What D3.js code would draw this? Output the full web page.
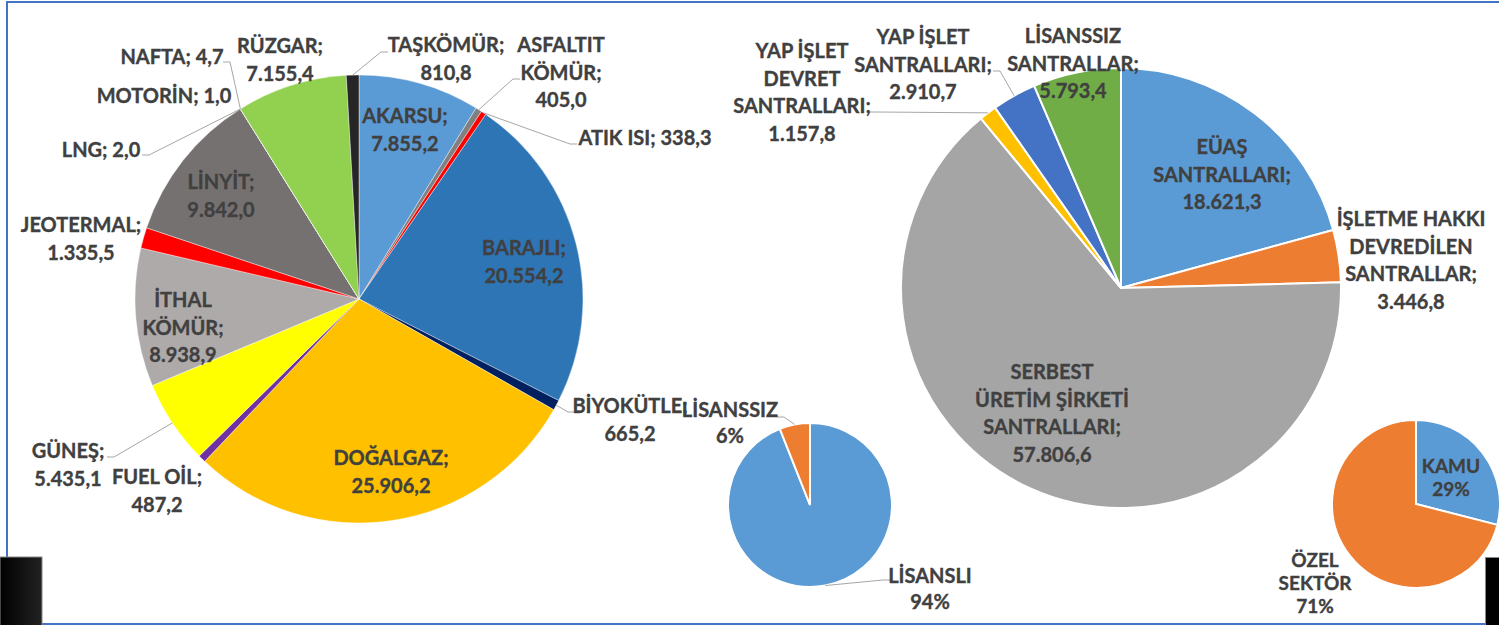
<!DOCTYPE html>
<html>
<head>
<meta charset="utf-8">
<script src="https://cdn.jsdelivr.net/npm/d3@7"></script>
<style>
  body { margin: 0; background: #fff; }
  svg text { font-family: Lato, "Noto Sans", sans-serif; font-weight: 700; fill: #404040; stroke: #404040; stroke-width: 0.35px; }
</style>
</head>
<body>
<svg id="chart" width="1499" height="625"></svg>
<script>
// installed capacity by source (MW)
const sources = ["AKARSU", "ASFALTIT KÖMÜR", "ATIK ISI", "BARAJLI", "BİYOKÜTLE", "DOĞALGAZ", "FUEL OİL", "GÜNEŞ",
  "İTHAL KÖMÜR", "JEOTERMAL", "LİNYİT", "LNG", "MOTORİN", "NAFTA", "RÜZGAR", "TAŞKÖMÜR"];
const sourceValues = [7855.2, 405.0, 338.3, 20554.2, 665.2, 25906.2, 487.2, 5435.1,
  8938.9, 1335.5, 9842.0, 2.0, 1.0, 4.7, 7155.4, 810.8];

// installed capacity by ownership (MW)
const owners = ["EÜAŞ SANTRALLARI", "İŞLETME HAKKI DEVREDİLEN SANTRALLAR", "SERBEST ÜRETİM ŞİRKETİ SANTRALLARI",
  "YAP İŞLET DEVRET SANTRALLARI", "YAP İŞLET SANTRALLARI", "LİSANSSIZ SANTRALLAR"];
const ownerValues = [18621.3, 3446.8, 57806.6, 1157.8, 2910.7, 5793.4];

// shares (%)
const licence = ["LİSANSLI", "LİSANSSIZ"];
const licenceShares = [94, 6];
const sectors = ["KAMU", "ÖZEL SEKTÖR"];
const sectorShares = [29, 71];

const sourceColors = ["#5b9bd5", "#808080", "#ff0000", "#2e75b6", "#002060", "#ffc000", "#7030a0", "#ffff00",
  "#aeaaaa", "#ff0000", "#767171", "#5b9bd5", "#ed7d31", "#a5a5a5", "#92d050", "#262626"];
const ownerColors = ["#5b9bd5", "#ed7d31", "#a5a5a5", "#ffc000", "#4472c4", "#70ad47"];
const shareColors = ["#5b9bd5", "#ed7d31"];

const tr = d3.formatLocale({ decimal: ",", thousands: ".", grouping: [3], currency: ["", ""] });
const fmtMW = tr.format(",.1f");
const fmtPct = v => v + "%";

// label placement, offsets from the pie centre; leader = [dx, dy, side of text]
const sourceLabels = {
  "AKARSU": { at: [46, -183], lines: ["AKARSU;", "%v"] },
  "ASFALTIT KÖMÜR": { at: [202, -254], lines: ["ASFALTIT", "KÖMÜR;", "%v"], leader: [161, -220, 1] },
  "ATIK ISI": { at: [286, -161], lines: ["ATIK ISI; %v"], leader: [218, -155, 1] },
  "BARAJLI": { at: [165, -51], lines: ["BARAJLI;", "%v"] },
  "BİYOKÜTLE": { at: [271, 107], lines: ["BİYOKÜTLE;", "%v"], leader: [216, 113, 1] },
  "DOĞALGAZ": { at: [32, 159], lines: ["DOĞALGAZ;", "%v"] },
  "FUEL OİL": { at: [-202, 178], lines: ["FUEL OİL;", "%v"] },
  "GÜNEŞ": { at: [-291, 152], lines: ["GÜNEŞ;", "%v"], leader: [-252, 158, -1] },
  "İTHAL KÖMÜR": { at: [-176, 1], lines: ["İTHAL", "KÖMÜR;", "%v"] },
  "JEOTERMAL": { at: [-278, -74], lines: ["JEOTERMAL;", "%v"] },
  "LİNYİT": { at: [-138, -117], lines: ["LİNYİT;", "%v"] },
  "LNG": { at: [-258, -149], lines: ["LNG; %v"], leader: [-217, -144, -1] },
  "MOTORİN": { at: [-195, -203], lines: ["MOTORİN; %v"] },
  "NAFTA": { at: [-187, -242], lines: ["NAFTA; %v"], leader: [-136, -237, -1] },
  "RÜZGAR": { at: [-79, -253], lines: ["RÜZGAR;", "%v"] },
  "TAŞKÖMÜR": { at: [87, -254], lines: ["TAŞKÖMÜR;", "%v"], leader: [29, -247, 1] }
};
const ownerLabels = {
  "EÜAŞ SANTRALLARI": { at: [101, -141], lines: ["EÜAŞ", "SANTRALLARI;", "%v"] },
  "İŞLETME HAKKI DEVREDİLEN SANTRALLAR": { at: [290, -69], lines: ["İŞLETME HAKKI", "DEVREDİLEN", "SANTRALLAR;", "%v"] },
  "SERBEST ÜRETİM ŞİRKETİ SANTRALLARI": { at: [-69, 84], lines: ["SERBEST", "ÜRETİM ŞİRKETİ", "SANTRALLARI;", "%v"] },
  "YAP İŞLET DEVRET SANTRALLARI": { at: [-319, -237], lines: ["YAP İŞLET", "DEVRET", "SANTRALLARI;", "%v"], leader: [-251, -176, -1] },
  "YAP İŞLET SANTRALLARI": { at: [-198, -251], lines: ["YAP İŞLET", "SANTRALLARI;", "%v"], leader: [-128, -217, -1] },
  "LİSANSSIZ SANTRALLAR": { at: [-48, -252], lines: ["LİSANSSIZ", "SANTRALLAR;", "%v"] }
};
const licenceLabels = {
  "LİSANSLI": { at: [120, 71], lines: ["LİSANSLI", "%v"], leader: [80, 75, 1] },
  "LİSANSSIZ": { at: [-80, -95], lines: ["LİSANSSIZ", "%v"], leader: [-33, -88, -1] }
};
const sectorLabels = {
  "KAMU": { at: [35, -38], lines: ["KAMU", "%v"] },
  "ÖZEL SEKTÖR": { at: [-101, 56], lines: ["ÖZEL", "SEKTÖR", "%v"] }
};

const svg = d3.select("#chart");

// frame
const frame = svg.append("g").attr("fill", "none").attr("stroke", "#4472c4").attr("stroke-width", 2);
frame.append("path").attr("d", "M7,557 V2 H1499");
frame.append("path").attr("d", "M42,624 H1485");

const grad = svg.append("defs").append("linearGradient").attr("id", "blk");
grad.append("stop").attr("offset", "0%").attr("stop-color", "#000");
grad.append("stop").attr("offset", "100%").attr("stop-color", "#222");
svg.append("rect").attr("x", 0).attr("y", 557).attr("width", 42).attr("height", 70)
  .attr("fill", "url(#blk)").attr("stroke", "#888").attr("stroke-width", 1);
svg.append("rect").attr("x", 1485.5).attr("y", 557.5).attr("width", 20).attr("height", 70)
  .attr("fill", "#000").attr("stroke", "#888").attr("stroke-width", 1);

function drawPie(opt) {
  const g = svg.append("g").attr("transform", `translate(${opt.cx}, ${opt.cy})`);
  const slices = d3.pie().sort(null).value(d => d)(opt.values);
  const arc = d3.arc().innerRadius(0).outerRadius(opt.r);

  g.selectAll("path.slice")
    .data(slices)
    .join("path")
    .attr("class", "slice")
    .attr("d", arc)
    .attr("fill", (d, i) => opt.colors[i])
    .attr("stroke", "#fff")
    .attr("stroke-width", opt.stroke);

  const edge = d => {
    const a = (d.startAngle + d.endAngle) / 2;
    return [opt.r * Math.sin(a), -opt.r * Math.cos(a)];
  };

  // leader lines
  g.selectAll("path.leader")
    .data(slices.filter((d, i) => opt.labels[opt.names[i]].leader))
    .join("path")
    .attr("class", "leader")
    .attr("fill", "none")
    .attr("stroke", "#a6a6a6")
    .attr("stroke-width", 1)
    .attr("d", d => {
      const [ex, ey, side] = opt.labels[opt.names[d.index]].leader;
      return d3.line()([edge(d), [ex - side * 7, ey], [ex, ey]]);
    });

  // labels
  const label = g.selectAll("text.lbl")
    .data(slices)
    .join("text")
    .attr("class", "lbl")
    .attr("text-anchor", "middle")
    .style("font-size", opt.fontSize + "px")
    .attr("transform", d => {
      const p = opt.labels[opt.names[d.index]].at;
      return `translate(${p[0]}, ${p[1]})`;
    });

  label.selectAll("tspan")
    .data(d => opt.labels[opt.names[d.index]].lines.map(s => s.replace("%v", opt.format(d.data))))
    .join("tspan")
    .attr("x", 0)
    .attr("y", (s, i) => i * opt.lineHeight)
    .attr("dy", "0.35em")
    .text(s => s);
}

drawPie({ cx: 359, cy: 299, r: 224, names: sources, values: sourceValues, colors: sourceColors,
  labels: sourceLabels, format: fmtMW, stroke: 0.4, fontSize: 20, lineHeight: 27.5 });
drawPie({ cx: 1121, cy: 288, r: 220, names: owners, values: ownerValues, colors: ownerColors,
  labels: ownerLabels, format: fmtMW, stroke: 2, fontSize: 20, lineHeight: 27.5 });
drawPie({ cx: 810, cy: 505, r: 82, names: licence, values: licenceShares, colors: shareColors,
  labels: licenceLabels, format: fmtPct, stroke: 2, fontSize: 20, lineHeight: 25.5 });
drawPie({ cx: 1416, cy: 504, r: 84, names: sectors, values: sectorShares, colors: shareColors,
  labels: sectorLabels, format: fmtPct, stroke: 2, fontSize: 19, lineHeight: 23 });
</script>
</body>
</html>
